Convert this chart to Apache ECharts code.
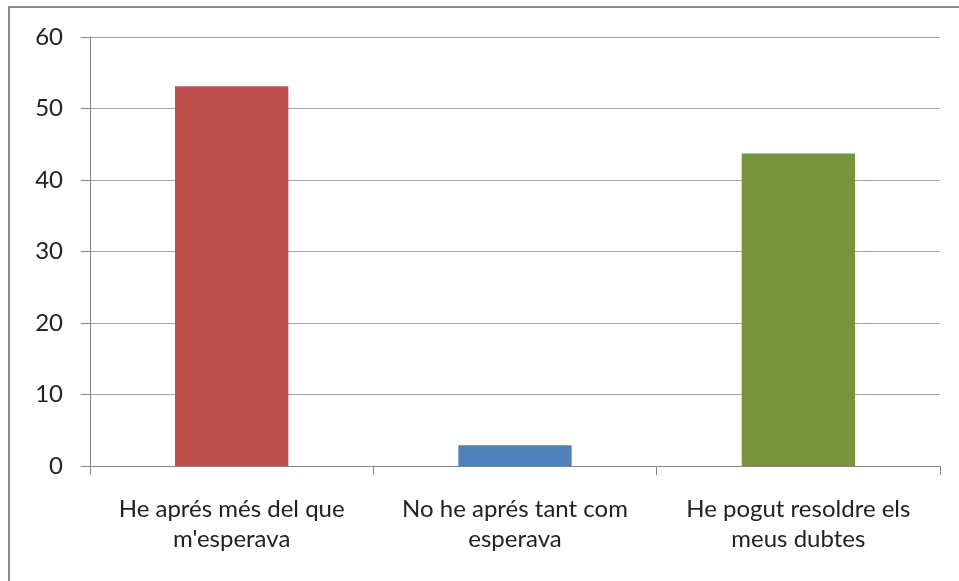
<!DOCTYPE html>
<html>
<head>
<meta charset="utf-8">
<script src="https://cdn.jsdelivr.net/npm/echarts@6/dist/echarts.min.js"></script>
<style>
html,body{margin:0;padding:0;background:#fff;}
#c{width:959px;height:581px;}
</style>
</head>
<body>
<div id="c"></div>
<script>
var categories = ["He aprés més del que\nm'esperava", "No he aprés tant com\nesperava", "He pogut resoldre els\nmeus dubtes"];
var values = [53.1, 2.9, 43.7];
var barColors = ['#C0504D', '#4F81BD', '#77933C'];
var yTicks = { min: 0, max: 60, interval: 10 };

var chart = echarts.init(document.getElementById('c'), null, { renderer: 'canvas' });
chart.setOption({
  animation: false,
  backgroundColor: '#fff',
  graphic: [{
    type: 'rect',
    shape: { x: 9, y: 7, width: 1200, height: 1000 },
    style: { fill: 'none', stroke: '#8a8a8a', lineWidth: 2 },
    silent: true
  }],
  grid: { left: 90, right: 19, top: 37, bottom: 115, containLabel: false },
  xAxis: {
    type: 'category',
    data: categories,
    axisLine: { show: true, lineStyle: { color: '#868686', width: 1 } },
    axisTick: { show: true, length: 9, lineStyle: { color: '#868686' } },
    axisLabel: {
      margin: 28,
      fontFamily: 'Lato',
      fontSize: 24,
      lineHeight: 30,
      color: '#222',
      interval: 0
    },
    splitLine: { show: false }
  },
  yAxis: {
    type: 'value',
    min: yTicks.min,
    max: yTicks.max,
    interval: yTicks.interval,
    axisLine: { show: true, lineStyle: { color: '#868686', width: 1 } },
    axisTick: { show: true, length: 9, lineStyle: { color: '#868686' } },
    axisLabel: {
      margin: 27,
      fontFamily: 'Lato',
      fontSize: 24,
      color: '#222'
    },
    splitLine: { show: true, lineStyle: { color: '#a6a6a6', width: 1 } }
  },
  series: [{
    type: 'bar',
    barWidth: '40%',
    data: values.map(function (v, i) {
      return { value: v, itemStyle: { color: barColors[i] } };
    })
  }]
});
</script>
</body>
</html>
